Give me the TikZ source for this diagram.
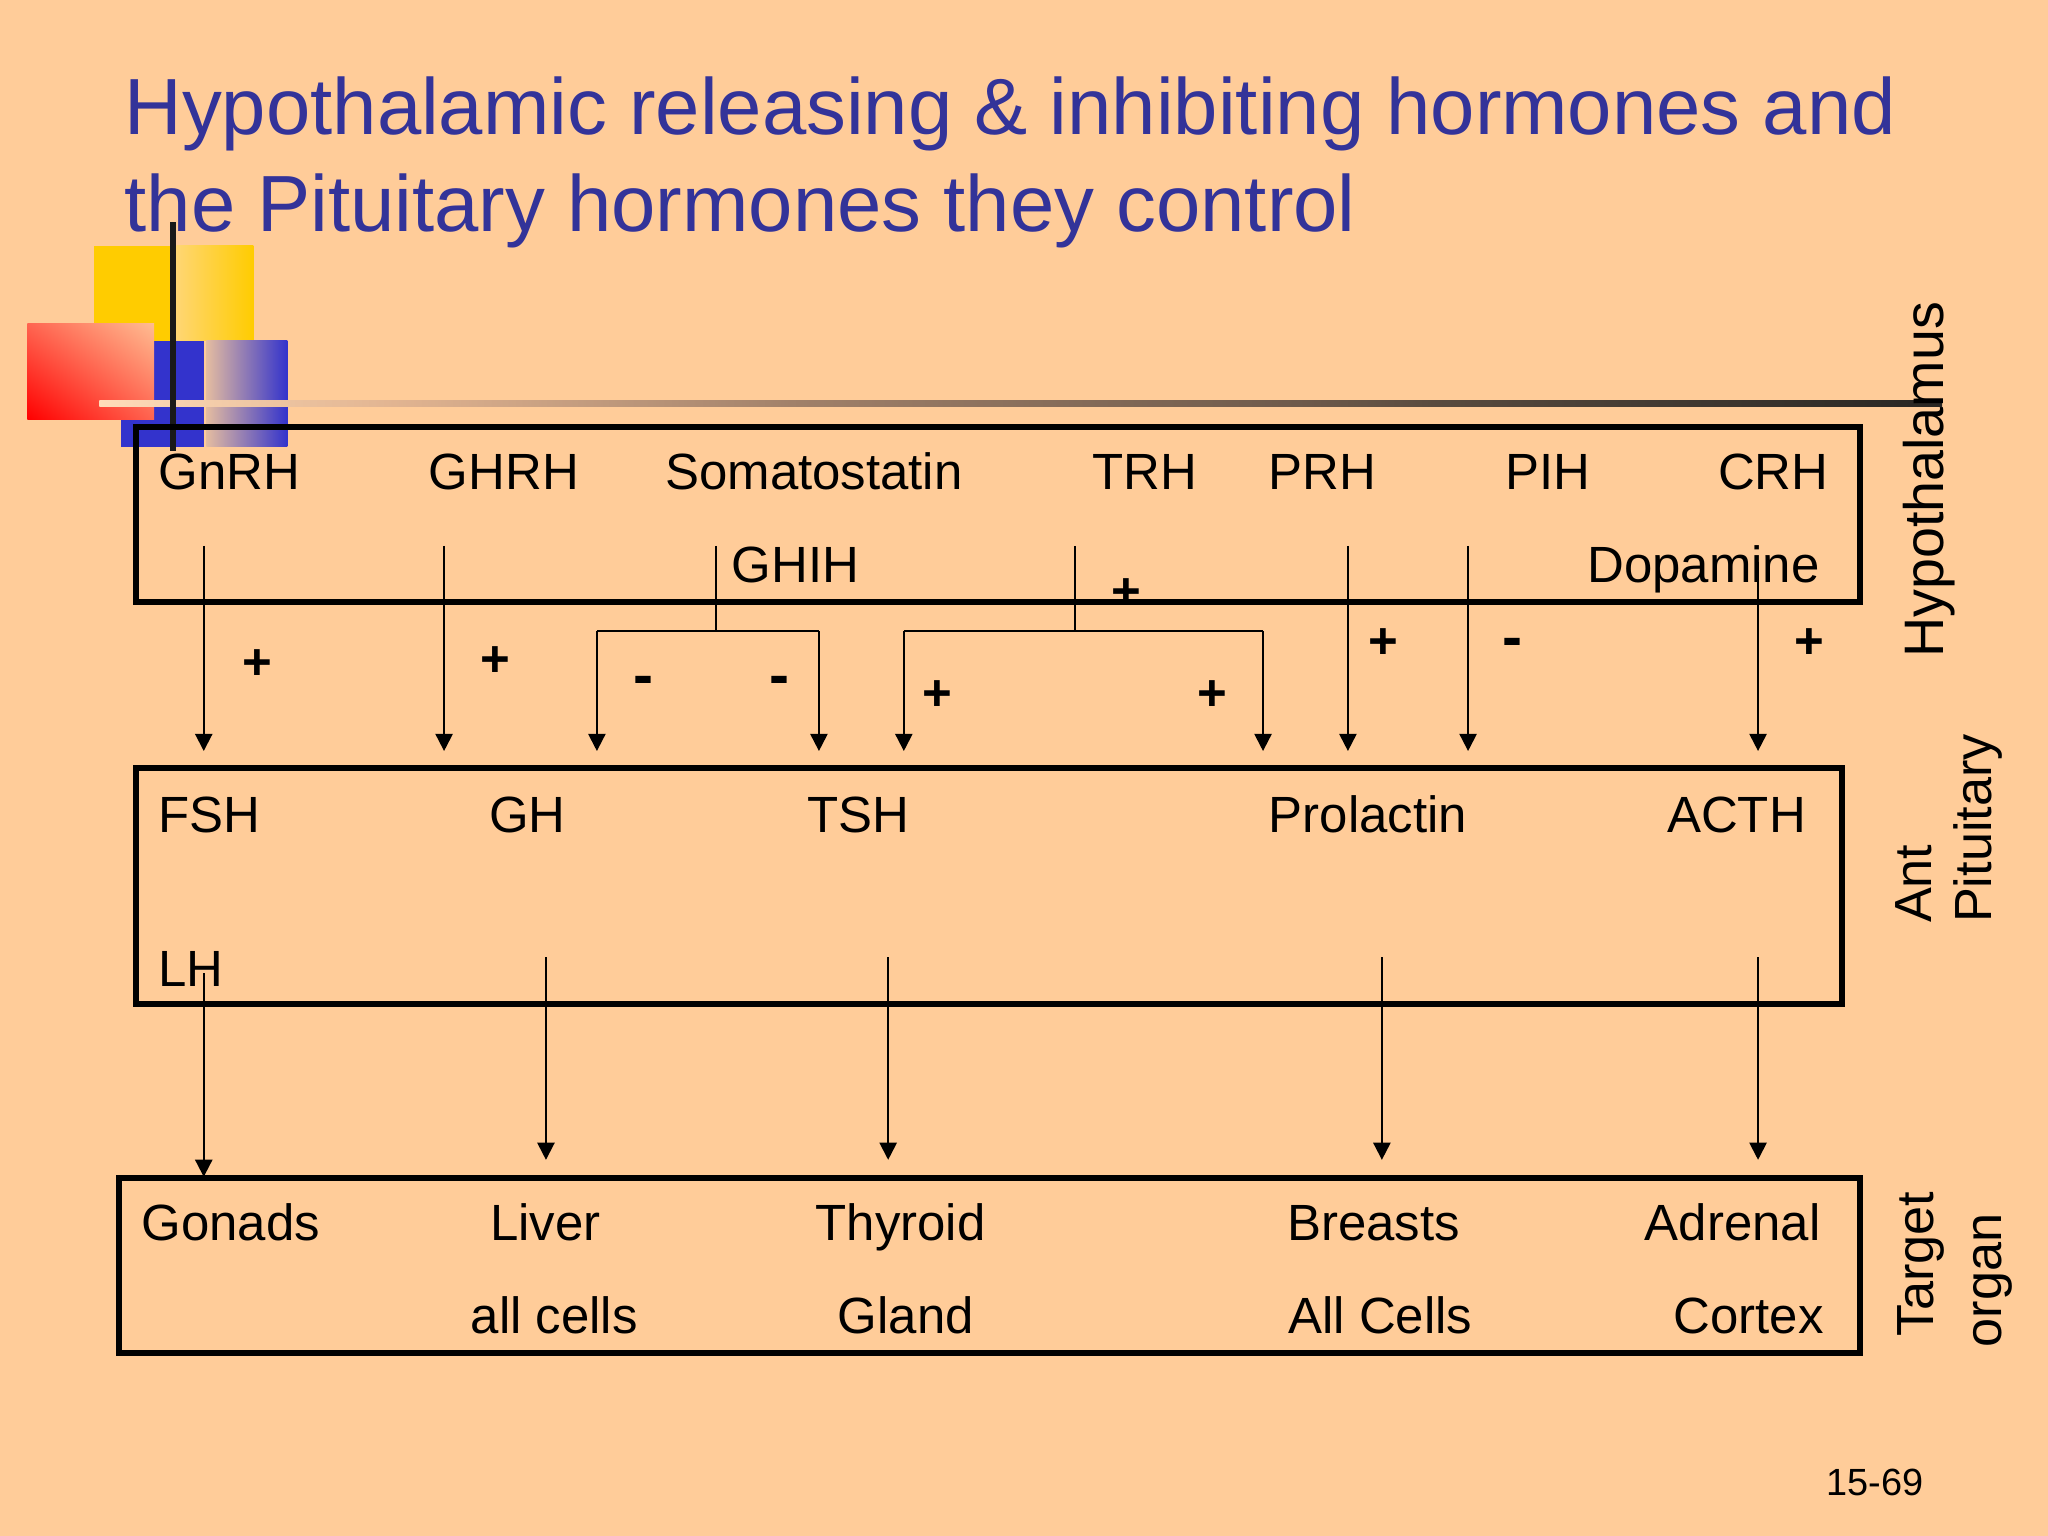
\documentclass[tikz,border=0pt]{standalone}
\usepackage{fontspec}
\setmainfont{Liberation Sans}
\usetikzlibrary{arrows.meta,shadings}
\definecolor{bg}{RGB}{255,204,153}
\definecolor{titleblue}{RGB}{51,51,153}
\definecolor{gold}{RGB}{255,204,0}
\definecolor{goldlight}{RGB}{255,214,115}
\definecolor{sqblue}{RGB}{51,51,204}
\definecolor{bluefade}{RGB}{228,188,160}
\definecolor{redA}{RGB}{255,0,0}
\definecolor{redB}{RGB}{255,100,80}
\definecolor{redC}{RGB}{255,188,145}
\pgfdeclarehorizontalshading{decoline}{100bp}{%
  rgb(0bp)=(1,0.863,0.725);
  rgb(25bp)=(1,0.863,0.725);
  rgb(33bp)=(0.882,0.706,0.569);
  rgb(44bp)=(0.627,0.502,0.412);
  rgb(57.5bp)=(0.431,0.353,0.294);
  rgb(61.5bp)=(0.345,0.290,0.243);
  rgb(75bp)=(0.157,0.149,0.137);
  rgb(100bp)=(0.157,0.149,0.137)}
\begin{document}
\begin{tikzpicture}[x=0.5pt,y=-0.5pt,
  box/.style={draw=black, line width=2.3pt, inner sep=0, outer sep=0},
  lbl/.style={inner sep=0, anchor=base west, font=\fontsize{19.5}{23.5}\selectfont},
  sign/.style={inner sep=0, anchor=base, font=\fontsize{19.5}{23.5}\selectfont\bfseries},
  minus/.style={inner sep=0, anchor=base, font=\fontsize{23}{27}\selectfont\bfseries},
  arr/.style={line width=0.77pt, -{Triangle[width=6.6pt,length=6.6pt]}},
  ln/.style={line width=0.77pt},
  side/.style={inner sep=0, anchor=base west, rotate=90, font=\fontsize{20}{24}\selectfont},
  ttl/.style={inner sep=0, anchor=base west, text=titleblue, font=\fontsize{30.5}{36}\selectfont}]

\fill[bg] (0,0) rectangle (1568,1176);
\useasboundingbox (0,0) rectangle (1568,1176);

% decoration squares
\fill[gold] (72,188) rectangle (135,261);
\shade[left color=goldlight, right color=gold] (135,188) rectangle (194,261);
\fill[sqblue] (93,261) rectangle (156,342);
\shade[left color=bluefade, right color=sqblue] (158,261) rectangle (220,342);
\shade[lower left=redA, upper right=redC, upper left=redB, lower right=redB] (21,248) rectangle (118,321);
\shade[shading=decoline] (76,306.5) rectangle (1487,311.5);
\draw[line width=2.3pt, draw={rgb,255:red,25;green,25;blue,25}] (132.5,170) -- (132.5,345);

% title
\node[ttl] (t1) at (95,103) {Hypothalamic releasing \& inhibiting hormones and};
\node[ttl] (t2) at (95,177) {the Pituitary hormones they control};

% boxes
\node[box, minimum width=660pt, minimum height=67pt] (hyp) at (764,394) {};
\node[box, minimum width=653pt, minimum height=90.5pt] (pit) at (757,678.5) {};
\node[box, minimum width=666.5pt, minimum height=67pt] (tgt) at (757.5,969) {};

% hypothalamus texts
\node[lbl] (gnrh) at (121,375) {GnRH};
\node[lbl] (ghrh) at (328,375) {GHRH};
\node[lbl] (soma) at (509,375) {Somatostatin};
\node[lbl] (trh) at (836,375) {TRH};
\node[lbl] (prh) at (971,375) {PRH};
\node[lbl] (pih) at (1152,375) {PIH};
\node[lbl] (crh) at (1315,375) {CRH};
\node[lbl] (ghih) at (560,446) {GHIH};
\node[lbl] (dopa) at (1215,446) {Dopamine};

% pituitary texts
\node[lbl] (fsh) at (121,637) {FSH};
\node[lbl] (gh) at (374,637) {GH};
\node[lbl] (tsh) at (618,637) {TSH};
\node[lbl] (prl) at (971,637) {Prolactin};
\node[lbl] (acth) at (1276,637) {ACTH};
\node[lbl] (lh) at (121,755) {LH};

% target texts
\node[lbl] (gon) at (108,950) {Gonads};
\node[lbl] (liv) at (375,950) {Liver};
\node[lbl] (thy) at (624,950) {Thyroid};
\node[lbl] (bre) at (985,950) {Breasts};
\node[lbl] (adr) at (1259,950) {Adrenal};
\node[lbl] (allc) at (360,1021) {all cells};
\node[lbl] (gla) at (641,1021) {Gland};
\node[lbl] (allC) at (986,1021) {All Cells};
\node[lbl] (cor) at (1281,1021) {Cortex};

% side labels
\node[side, font=\fontsize{21.3}{25}\selectfont] (sh) at (1488,504) {Hypothalamus};
\node[side] (sa) at (1479,707) {Ant};
\node[side] (sp) at (1525,707) {Pituitary};
\node[side] (st) at (1480,1024) {Target};
\node[side] (so) at (1532,1032) {organ};

% footer
\node[inner sep=0, anchor=base west, font=\fontsize{14.5}{17}\selectfont] (pg) at (1398,1145) {15-69};

% connector points (hypothalamus -> pituitary)
\coordinate (h1) at (156,418);  \coordinate (p1) at (156,575);
\coordinate (h2) at (340,418);  \coordinate (p2) at (340,575);
\coordinate (h3) at (548,418);  \coordinate (j3) at (548,483);
\coordinate (j3a) at (457,483); \coordinate (p3a) at (457,575);
\coordinate (j3b) at (627,483); \coordinate (p3b) at (627,575);
\coordinate (h4) at (823,418);  \coordinate (j4) at (823,483);
\coordinate (j4a) at (692,483); \coordinate (p4a) at (692,575);
\coordinate (j4b) at (967,483); \coordinate (p4b) at (967,575);
\coordinate (h5) at (1032,418); \coordinate (p5) at (1032,575);
\coordinate (h6) at (1124,418); \coordinate (p6) at (1124,575);
\coordinate (h7) at (1346,430); \coordinate (p7) at (1346,575);

\draw[arr] (h1) -- (p1);
\draw[arr] (h2) -- (p2);
\draw[ln] (h3) -- (j3);
\draw[ln] (j3a) -- (j3b);
\draw[arr] (j3a) -- (p3a);
\draw[arr] (j3b) -- (p3b);
\draw[ln] (h4) -- (j4);
\draw[ln] (j4a) -- (j4b);
\draw[arr] (j4a) -- (p4a);
\draw[arr] (j4b) -- (p4b);
\draw[arr] (h5) -- (p5);
\draw[arr] (h6) -- (p6);
\draw[arr] (h7) -- (p7);

% pituitary -> target
\coordinate (q1) at (156,745);  \coordinate (r1) at (156,901);
\coordinate (q2) at (418,733);  \coordinate (r2) at (418,888);
\coordinate (q3) at (680,733);  \coordinate (r3) at (680,888);
\coordinate (q4) at (1058,733); \coordinate (r4) at (1058,888);
\coordinate (q5) at (1346,733); \coordinate (r5) at (1346,888);
\draw[arr] (q1) -- (r1);
\draw[arr] (q2) -- (r2);
\draw[arr] (q3) -- (r3);
\draw[arr] (q4) -- (r4);
\draw[arr] (q5) -- (r5);

% signs
\node[sign] (s1) at (197,520) {+};
\node[sign] (s2) at (379,518) {+};
\node[minus] (s3) at (493,532.5) {-};
\node[minus] (s4) at (597,532.5) {-};
\node[sign] (s5) at (862,466) {+};
\node[sign] (s6) at (718,544) {+};
\node[sign] (s7) at (928,544) {+};
\node[sign] (s8) at (1059,504) {+};
\node[minus] (s9) at (1158,503.5) {-};
\node[sign] (s10) at (1385,504) {+};
\end{tikzpicture}
\end{document}
